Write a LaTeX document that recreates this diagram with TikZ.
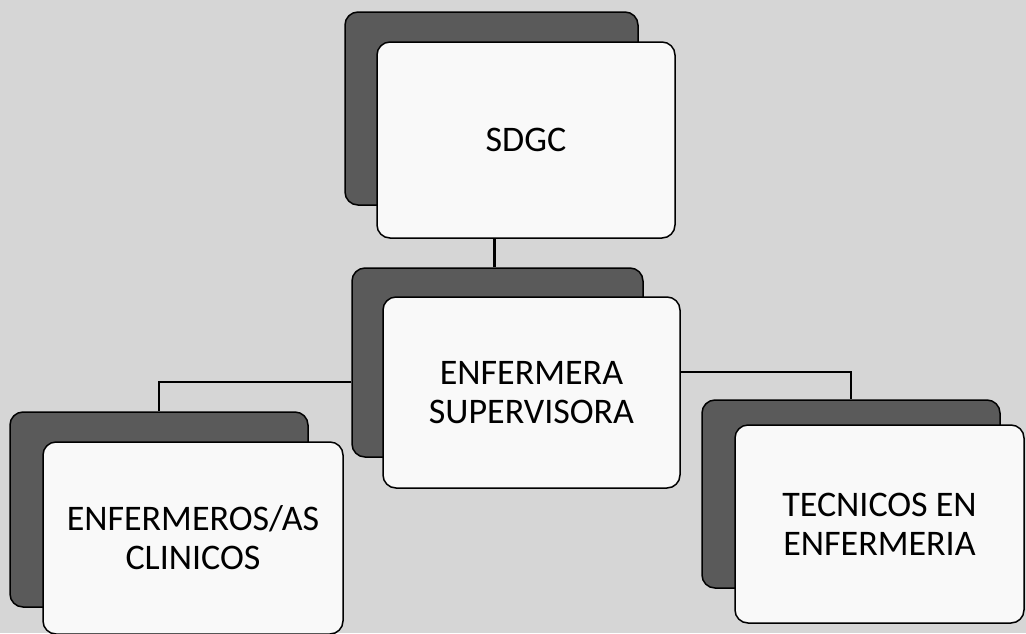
\documentclass[tikz,border=0pt]{standalone}
\usepackage{fontspec}
\setmainfont{Carlito}
\definecolor{bg}{RGB}{214,214,214}
\definecolor{shade}{RGB}{90,90,90}
\definecolor{card}{RGB}{249,249,249}
\tikzset{
  back/.style={draw=black, line width=1.5pt, fill=shade, rounded corners=13pt, inner sep=0pt},
  front/.style={draw=black, line width=1.5pt, fill=card, rounded corners=13pt, inner sep=0pt,
    align=center, font=\fontsize{36}{39}\selectfont, text=black},
  link/.style={draw=black, line width=1.6pt},
}
\begin{document}
\begin{tikzpicture}[x=1pt,y=-1pt]
\fill[bg] (0,0) rectangle (1026,633);
\useasboundingbox (0,0) rectangle (1026,633);
% top
\node[back, minimum width=293pt, minimum height=193pt] (sdgcS) at (491.5,108.5) {};
\node[front, minimum width=298pt, minimum height=196pt] (sdgc) at (526,140) {SDGC};
% middle
\node[back, minimum width=291pt, minimum height=189pt] (supS) at (497.5,362.5) {};
\node[front, minimum width=297pt, minimum height=191pt] (sup) at (531.5,392.5) {ENFERMERA\\SUPERVISORA};
% left
\node[back, minimum width=298pt, minimum height=195pt] (leftS) at (159,509.5) {};
\node[front, minimum width=300pt, minimum height=192pt] (left) at (193,538) {ENFERMEROS/AS\\CLINICOS};
% right
\node[back, minimum width=298pt, minimum height=188pt] (rightS) at (851,494) {};
\node[front, minimum width=289pt, minimum height=198pt] (right) at (879.5,524) {TECNICOS EN\\ENFERMERIA};
% connectors
\draw[link, line width=3pt] ([xshift=-3pt]supS.north) -- ([xshift=-3pt]supS.north |- sdgc.south);
\draw[link] ([yshift=-19.5pt]supS.west) -| (leftS.north);
\draw[link] ([yshift=20.5pt]sup.east) -| (rightS.north);
\end{tikzpicture}
\end{document}
